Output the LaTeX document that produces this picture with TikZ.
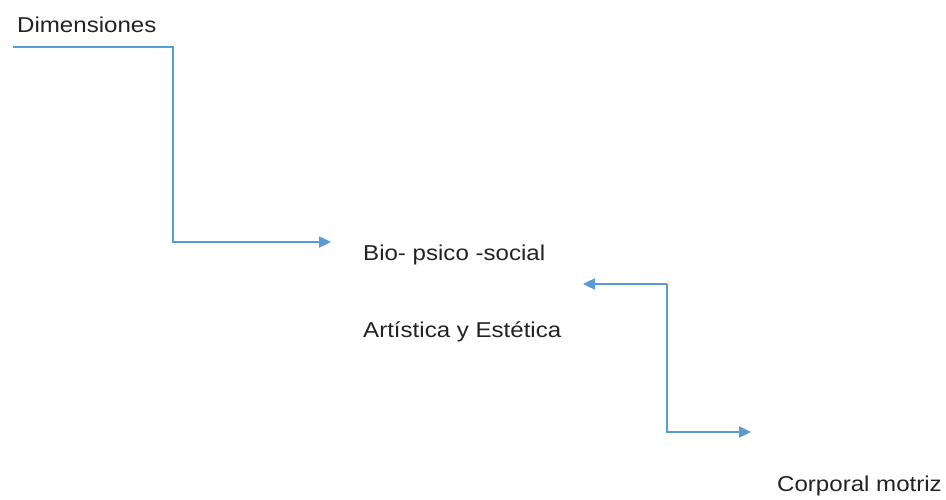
\documentclass[tikz,border=0pt]{standalone}
\usepackage{fontspec}
\setmainfont[FakeStretch=1.12]{Liberation Sans}
\usetikzlibrary{arrows.meta}
\definecolor{linkblue}{HTML}{5B9BD5}
\definecolor{txt}{HTML}{222222}
\tikzset{
  lbl/.style={anchor=base west, inner sep=0pt, font=\fontsize{21.5}{24}\selectfont, text=txt},
  link/.style={draw=linkblue, line width=2.4pt, -{Triangle[length=12pt,width=11pt]}}
}
\begin{document}
\begin{tikzpicture}[x=1pt,y=-1pt]
\useasboundingbox (0,0) rectangle (946,500);
\node[lbl] (dim) at (17,33) {Dimensiones};
\node[lbl] (bio) at (363,261) {Bio- psico -social};
\node[lbl] (art) at (363,337) {Artística y Estética};
\node[lbl] (cor) at (777,491) {Corporal motriz};
\coordinate (a0) at (13,47);
\coordinate (a1) at (331,242);
\coordinate (b0) at (667,284);
\coordinate (b1) at (583,284);
\coordinate (c1) at (751,432);
\draw[link] (a0) -| (173,242) -- (a1);
\draw[link] (b0) -- (b1);
\draw[link] (b0) |- (c1);
\end{tikzpicture}
\end{document}
